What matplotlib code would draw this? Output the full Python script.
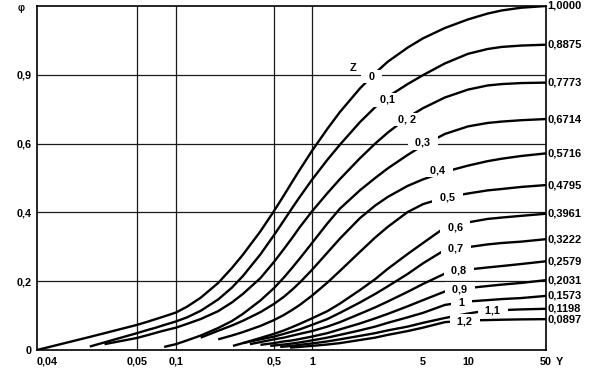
import numpy as np
import matplotlib
matplotlib.use("Agg")
import matplotlib.pyplot as plt

plt.rcParams['font.family'] = ['Liberation Sans', 'DejaVu Sans']

# x axis of the chart is a stretched log scale; tick values and their spacing
x_ticks = [0.04, 0.05, 0.1, 0.5, 1, 5, 10, 50]
x_tick_labels = ['0,04', '0,05', '0,1', '0,5', '1', '5', '10', '50']
x_scale_pos = [0, 100, 139, 237, 275, 386, 431, 509]
x_grid = [0.05, 0.1, 0.5, 1]

y_ticks = [0, 0.2, 0.4, 0.6, 0.8]
y_tick_labels = ['0', '0,2', '0,4', '0,6', '0,9']

# curves phi(Y) for each Z
z_labels = ['0', '0,1', '0, 2', '0,3', '0,4', '0,5', '0,6', '0,7', '0,8', '0,9', '1', '1,1', '1,2']
end_labels = ['1,0000', '0,8875', '0,7773', '0,6714', '0,5716', '0,4795', '0,3961',
              '0,3222', '0,2579', '0,2031', '0,1573', '0,1198', '0,0897']
end_values = [1.0, 0.8875, 0.7773, 0.6714, 0.5716, 0.4795, 0.3961,
              0.3222, 0.2579, 0.2031, 0.1573, 0.1198, 0.0897]

y_z00 = [0.04, 0.045, 0.05, 0.06, 0.07, 0.08, 0.1, 0.12, 0.15, 0.2, 0.25, 0.3, 0.4, 0.5, 0.6, 0.7, 0.8,
         1, 1.25, 1.5, 2, 2.5, 3, 4, 5, 7, 10, 15, 20, 30, 50]
phi_z00 = [0, 0.038, 0.073, 0.082, 0.090, 0.097, 0.109, 0.126, 0.152, 0.195, 0.238, 0.277, 0.345, 0.404,
           0.450, 0.490, 0.524, 0.579, 0.643, 0.692, 0.760, 0.805, 0.838, 0.879, 0.906, 0.936, 0.961,
           0.978, 0.987, 0.995, 1.0]

y_z01 = [0.045, 0.05, 0.06, 0.07, 0.08, 0.1, 0.12, 0.15, 0.2, 0.25, 0.3, 0.4, 0.5, 0.6, 0.7, 0.8,
         1, 1.25, 1.5, 2, 2.5, 3, 4, 5, 7, 10, 15, 20, 30, 50]
phi_z01 = [0.010, 0.049, 0.058, 0.065, 0.072, 0.083, 0.095, 0.114, 0.147, 0.181, 0.215, 0.278, 0.334,
           0.377, 0.414, 0.445, 0.495, 0.553, 0.597, 0.662, 0.706, 0.736, 0.773, 0.799, 0.833, 0.861,
           0.875, 0.881, 0.885, 0.8875]

y_z02 = [0.0465, 0.05, 0.06, 0.07, 0.08, 0.1, 0.12, 0.15, 0.2, 0.25, 0.3, 0.4, 0.5, 0.6, 0.7, 0.8,
         1, 1.25, 1.5, 2, 2.5, 3, 4, 5, 7, 10, 15, 20, 30, 50]
phi_z02 = [0.017, 0.035, 0.043, 0.050, 0.056, 0.065, 0.076, 0.090, 0.113, 0.138, 0.163, 0.209, 0.256,
           0.294, 0.327, 0.357, 0.403, 0.456, 0.497, 0.557, 0.600, 0.632, 0.676, 0.703, 0.734, 0.757,
           0.769, 0.773, 0.776, 0.7773]

y_z03 = [0.081, 0.1, 0.12, 0.15, 0.2, 0.25, 0.3, 0.4, 0.5, 0.6, 0.7, 0.8, 1, 1.25, 1.5, 2, 2.5, 3,
         4, 5, 7, 10, 15, 20, 30, 50]
phi_z03 = [0.009, 0.017, 0.028, 0.042, 0.064, 0.084, 0.105, 0.144, 0.180, 0.211, 0.240, 0.266, 0.311,
           0.368, 0.411, 0.464, 0.500, 0.528, 0.567, 0.595, 0.628, 0.650, 0.660, 0.664, 0.668, 0.6714]

y_z04 = [0.15, 0.2, 0.25, 0.3, 0.4, 0.5, 0.6, 0.7, 0.8, 1, 1.25, 1.5, 2, 2.5, 3, 4, 5,
         7, 10, 15, 20, 30, 50]
phi_z04 = [0.036, 0.056, 0.071, 0.085, 0.110, 0.134, 0.155, 0.176, 0.196, 0.233, 0.283,
           0.324, 0.383, 0.420, 0.445, 0.477, 0.496, 0.518, 0.536, 0.549, 0.556, 0.564, 0.5716]

y_z05 = [0.2, 0.25, 0.3, 0.4, 0.5, 0.6, 0.7, 0.8, 1, 1.25, 1.5, 2, 2.5, 3, 4, 5, 7, 10, 15, 20,
         30, 50]
phi_z05 = [0.031, 0.042, 0.052, 0.070, 0.087, 0.102, 0.117, 0.131, 0.158, 0.196, 0.230, 0.285, 0.327,
           0.358, 0.401, 0.424, 0.443, 0.455, 0.464, 0.468, 0.474, 0.4795]

y_z06 = [0.255, 0.3, 0.4, 0.5, 0.6, 0.7, 0.8, 1, 1.25, 1.5, 2, 2.5, 3, 4, 5, 7, 10, 15, 20, 30, 50]
phi_z06 = [0.012, 0.020, 0.035, 0.047, 0.057, 0.067, 0.076, 0.092, 0.113, 0.135, 0.174, 0.206, 0.236,
           0.279, 0.311, 0.356, 0.371, 0.381, 0.385, 0.390, 0.3961]

y_z07 = [0.3, 0.4, 0.5, 0.6, 0.7, 0.8, 1, 1.25, 1.5, 2, 2.5, 3, 4, 5, 7, 10, 15, 20, 30, 50]
phi_z07 = [0.020, 0.031, 0.039, 0.047, 0.054, 0.060, 0.073, 0.090, 0.108, 0.138, 0.163, 0.185, 0.221,
           0.252, 0.291, 0.299, 0.307, 0.311, 0.315, 0.3222]

y_z08 = [0.337, 0.4, 0.5, 0.6, 0.7, 0.8, 1, 1.25, 1.5, 2, 2.5, 3, 4, 5, 7, 10, 15, 20, 30, 50]
phi_z08 = [0.017, 0.023, 0.031, 0.036, 0.042, 0.047, 0.055, 0.068, 0.081, 0.105, 0.124, 0.141, 0.169,
           0.192, 0.222, 0.234, 0.240, 0.244, 0.250, 0.2579]

y_z09 = [0.4, 0.5, 0.6, 0.7, 0.8, 1, 1.25, 1.5, 2, 2.5, 3, 4, 5, 7, 10, 15, 20, 30, 50]
phi_z09 = [0.015, 0.020, 0.025, 0.028, 0.032, 0.039, 0.049, 0.060, 0.077, 0.092, 0.105, 0.127, 0.145,
           0.170, 0.180, 0.186, 0.190, 0.195, 0.2031]

y_z10 = [0.47, 0.6, 0.7, 0.8, 1, 1.25, 1.5, 2, 2.5, 3, 4, 5, 7, 10, 15, 20, 30, 50]
phi_z10 = [0.012, 0.016, 0.019, 0.022, 0.028, 0.036, 0.044, 0.057, 0.068, 0.079, 0.095, 0.108, 0.131,
           0.141, 0.145, 0.148, 0.151, 0.1573]

y_z11 = [0.56, 0.7, 0.8, 1, 1.25, 1.5, 2, 2.5, 3, 4, 5, 7, 10, 15, 20, 30, 50]
phi_z11 = [0.009, 0.012, 0.015, 0.019, 0.025, 0.031, 0.041, 0.049, 0.057, 0.068, 0.079, 0.093, 0.106,
           0.115, 0.116, 0.118, 0.1198]

y_z12 = [0.67, 0.8, 1, 1.25, 1.5, 2, 2.5, 3, 4, 5, 7, 10, 15, 20, 30, 50]
phi_z12 = [0.007, 0.009, 0.012, 0.016, 0.020, 0.029, 0.036, 0.044, 0.055, 0.065, 0.081, 0.086, 0.087,
           0.088, 0.089, 0.0897]

# where the Z labels sit on the curves (Y, phi)
z_label_y = [2.38, 3.0, 3.96, 5.0, 6.3, 7.3, 8.2, 8.3, 8.7, 8.8, 9.1, 16.6, 9.5]
z_label_phi = [0.794, 0.727, 0.669, 0.602, 0.523, 0.442, 0.355, 0.294, 0.230, 0.177, 0.137, 0.116, 0.084]

curves = [(y_z00, phi_z00), (y_z01, phi_z01), (y_z02, phi_z02), (y_z03, phi_z03),
          (y_z04, phi_z04), (y_z05, phi_z05), (y_z06, phi_z06), (y_z07, phi_z07),
          (y_z08, phi_z08), (y_z09, phi_z09), (y_z10, phi_z10), (y_z11, phi_z11),
          (y_z12, phi_z12)]

lv = np.log10(x_ticks)


def fwd(x):
    x = np.clip(np.asarray(x, dtype=float), 1e-6, None)
    return np.interp(np.log10(x), lv, x_scale_pos)


def inv(p):
    return 10 ** np.interp(np.asarray(p, dtype=float), x_scale_pos, lv)


fig = plt.figure(figsize=(5.98, 3.73), dpi=100)
ax = fig.add_axes([37 / 598, 23 / 373, 509 / 598, 344 / 373])
ax.set_xscale('function', functions=(fwd, inv))
ax.set_xlim(0.04, 50)
ax.set_ylim(0, 1.0)

for gx in x_grid:
    ax.axvline(gx, color='#1a1a1a', lw=0.9, zorder=1)
for gy in y_ticks[1:]:
    ax.axhline(gy, color='#1a1a1a', lw=0.9, zorder=1)

for yy, pp in curves:
    ax.plot(yy, pp, color='black', lw=1.7, solid_capstyle='butt', solid_joinstyle='round', zorder=2)

box = dict(boxstyle='square,pad=0.15', fc='white', ec='none')
for lab, lx, ly in zip(z_labels, z_label_y, z_label_phi):
    ax.text(lx, ly, '  ' + lab + '  ', ha='center', va='center', fontsize=7.8,
            fontweight='bold', bbox=box, zorder=4)
ax.text(1.81, 0.82, 'Z', ha='center', va='center', fontsize=7.8, fontweight='bold', zorder=4)

for lab, val in zip(end_labels, end_values):
    ax.text(1.003, val, lab, transform=ax.get_yaxis_transform(), ha='left', va='center',
            fontsize=8, fontweight='bold', clip_on=False)

ax.set_xticks(x_ticks)
ax.set_xticklabels(x_tick_labels, fontsize=7.8, fontweight='bold')
ax.get_xticklabels()[0].set_ha('left')
ax.set_yticks(y_ticks)
ax.set_yticklabels(y_tick_labels, fontsize=7.8, fontweight='bold')
ax.tick_params(length=0, pad=4)
ax.tick_params(axis='x', pad=5)
ax.minorticks_off()

ax.text(1.02, -0.035, 'Y', transform=ax.transAxes, ha='left', va='center',
        fontsize=7.8, fontweight='bold')
ax.text(-0.025, 0.995, 'φ', transform=ax.transAxes, ha='right', va='center',
        fontsize=7, fontweight='bold')

for sp in ax.spines.values():
    sp.set_linewidth(1.2)
    sp.set_zorder(5)

fig.savefig('out.png', dpi=100)
